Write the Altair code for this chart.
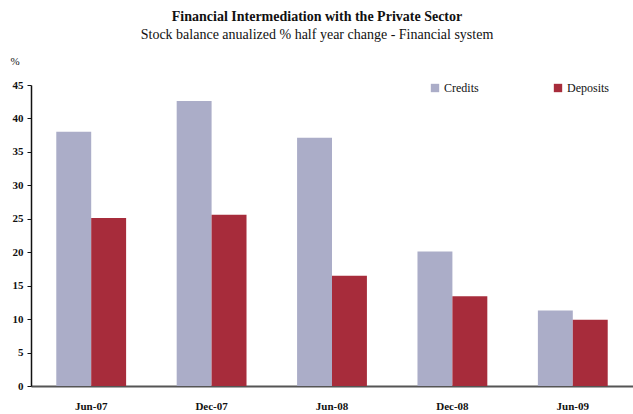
import altair as alt
import pandas as pd

periods = ["Jun-07", "Dec-07", "Jun-08", "Dec-08", "Jun-09"]
credits = [38.0, 42.6, 37.1, 20.1, 11.3]
deposits = [25.1, 25.6, 16.5, 13.4, 9.9]
series = ["Credits", "Deposits"]
colors = ["#ABADC8", "#A72C3B"]

rows = []
for p, c, d in zip(periods, credits, deposits):
    rows.append({"period": p, "series": "Credits", "value": c})
    rows.append({"period": p, "series": "Deposits", "value": d})
df = pd.DataFrame(rows)

FONT = "Liberation Serif"

chart = alt.Chart(df).mark_bar().encode(
    x=alt.X("period:N", sort=periods, title=None,
            scale=alt.Scale(paddingInner=0.42, paddingOuter=0.21),
            axis=alt.Axis(labelAngle=0, ticks=False, labelFont=FONT, labelFontWeight="bold",
                          labelFontSize=11, labelColor="#111", labelPadding=14,
                          domainColor="#555", domainWidth=2, grid=False)),
    xOffset=alt.XOffset("series:N", sort=series),
    y=alt.Y("value:Q", scale=alt.Scale(domain=[0, 45]),
            axis=alt.Axis(values=list(range(0, 46, 5)), title="%", titleAngle=0,
                          titleX=-21, titleY=-19, titleAlign="left", titleFont=FONT,
                          titleFontWeight="normal", titleFontSize=11, titleColor="#111",
                          labelFont=FONT, labelFontWeight="bold", labelFontSize=11,
                          labelColor="#111", tickSize=4, tickColor="#111", labelPadding=4,
                          domainColor="#111", domainWidth=1.5, grid=False)),
    color=alt.Color("series:N", sort=series,
                    scale=alt.Scale(domain=series, range=colors),
                    legend=alt.Legend(title=None, orient="none", legendX=398, legendY=-3,
                                      direction="horizontal", symbolType="square",
                                      symbolSize=70, symbolStrokeWidth=0,
                                      labelFont=FONT, labelFontSize=12, labelColor="#111",
                                      columnPadding=73, labelOffset=3)),
).properties(
    width=602, height=301,
    title=alt.TitleParams(
        text="Financial Intermediation with the Private Sector",
        subtitle="Stock balance anualized % half year change - Financial system",
        font=FONT, fontSize=14, fontWeight="bold", color="#111",
        subtitleFont=FONT, subtitleFontSize=14, subtitleColor="#111",
        subtitlePadding=4, anchor="middle", dx=-15, offset=13),
    autosize="none",
    padding={"left": 31, "top": 85, "right": 0, "bottom": 28},
).configure_view(stroke=None)

chart.save("out.html", embed_options={"renderer": "svg", "actions": False})
